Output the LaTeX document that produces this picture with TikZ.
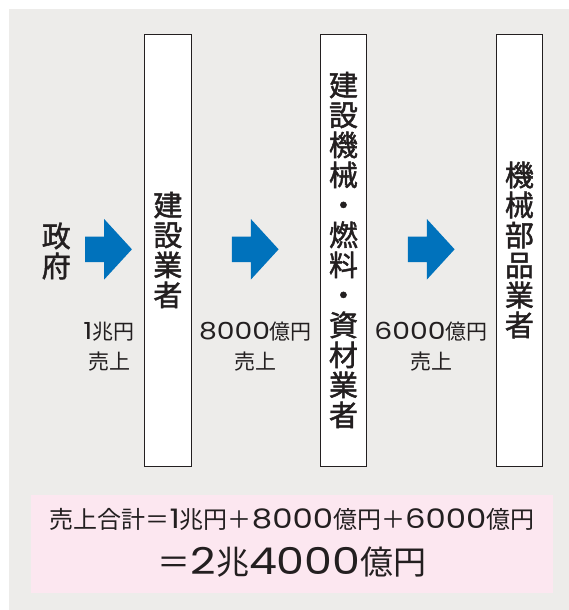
\documentclass[tikz,border=0pt]{standalone}
\usepackage{fontspec}
\setmainfont{Noto Sans CJK JP}
\newfontfamily\medfont{Noto Sans CJK JP}[FakeBold=1.6]
\newfontfamily\dgf{Poppins}[Scale=1.12, FakeStretch=1.2]
\usetikzlibrary{shapes.arrows}
\definecolor{bg}{RGB}{237,236,234}
\definecolor{pinkbg}{RGB}{252,231,240}
\definecolor{arrowblue}{RGB}{0,114,188}
\definecolor{ink}{RGB}{35,31,32}
\newcommand{\dg}[1]{{\dgf #1}}
\tikzset{
  column/.style={draw=ink, line width=0.8pt, fill=white, minimum width=46.3pt, minimum height=432pt, inner sep=0pt},
  vtext/.style={font=\fontsize{29}{30}\selectfont\medfont, align=center, text=ink, inner sep=0pt},
  flow/.style={single arrow, fill=arrowblue, draw=none, minimum height=46.7pt,
    single arrow head extend=17.5pt, inner ysep=12.5pt, inner xsep=0pt,
    single arrow tip angle=95, anchor=tail},
  sales/.style={font=\fontsize{21}{30}\selectfont, align=center, text=ink, inner sep=0pt},
}
\begin{document}
\begin{tikzpicture}[x=1pt,y=-1pt]
\useasboundingbox (0,0) rectangle (569,610);
\fill[bg] (9,9) rectangle (569,610);
% columns
\node[column] (c1) at (167.85,250) {};
\node[column] (c2) at (343.45,250) {};
\node[column] (c3) at (519.4,250) {};
\node[vtext] (t1) at (c1) {建\\設\\業\\者};
\node[vtext] (t2) at (c2) {建\\設\\機\\械\\・\\燃\\料\\・\\資\\材\\業\\者};
\node[vtext] (t3) at (c3) {機\\械\\部\\品\\業\\者};
% government
\node[vtext] (gov) at (56.3,251) {政\\府};
% arrows
\node[flow] (a1) at (85,249.3) {};
\node[flow] (a2) at (231.7,249.3) {};
\node[flow] (a3) at (407.7,249.3) {};
% sales labels
\node[sales] (s1) at (109,346.5) {\dg{1}兆円\\売上};
\node[sales] (s2) at (255.5,346.5) {\dg{8000}億円\\売上};
\node[sales] (s3) at (431,346.5) {\dg{6000}億円\\売上};
% total
\node[fill=pinkbg, minimum width=522pt, minimum height=98pt, inner sep=0pt] (tot) at (292,544) {};
\node[text=ink, inner sep=0pt, font=\fontsize{24}{24}\selectfont] (sum1) at (292,519.5)
  {売上合計＝\dg{1}兆円＋\dg{8000}億円＋\dg{6000}億円};
\node[text=ink, inner sep=0pt, font=\fontsize{33}{33}\selectfont] (sum2) at (292,562.5)
  {＝\dg{2}兆\dg{4000}億円};
\end{tikzpicture}
\end{document}
